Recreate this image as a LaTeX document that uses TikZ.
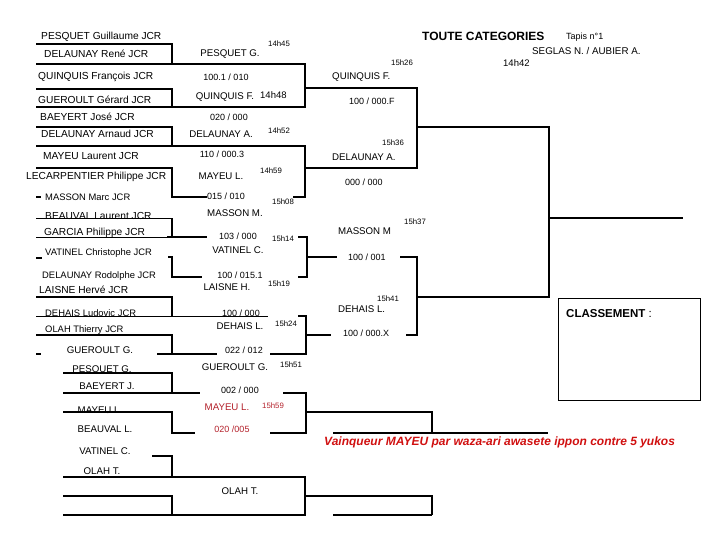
\documentclass[tikz,border=0pt]{standalone}
\usepackage{fontspec}
\setmainfont{Liberation Sans}
\usepackage{xcolor}
\usepackage{tikz}
\usetikzlibrary{positioning}
\definecolor{scoreRed}{HTML}{B3202A}
\definecolor{winRed}{HTML}{D01010}

\begin{document}
\begin{tikzpicture}[
    x=1pt, y=-1pt,
    player/.style={anchor=west, inner sep=0pt, font=\fontsize{10.2}{11}\selectfont},
    smallplayer/.style={player, font=\fontsize{9.4}{10}\selectfont},
    winner/.style={inner sep=0pt, font=\fontsize{9.7}{10}\selectfont},
    score/.style={inner sep=0pt, font=\fontsize{9}{10}\selectfont},
    clock/.style={anchor=west, inner sep=0pt, font=\fontsize{7.8}{8}\selectfont},
    bar/.style={line width=2.8pt},
    thinbar/.style={line width=1pt}
]
\useasboundingbox (0,0) rectangle (720,540);

% header
\node[anchor=west, inner sep=0pt, font=\fontsize{12}{13}\selectfont\bfseries] (title) at (422,36) {TOUTE CATEGORIES};
\node[anchor=west, inner sep=0pt, font=\fontsize{9}{10}\selectfont] (tapis) at (566,37) {Tapis n°1};
\node[anchor=west, inner sep=0pt, font=\fontsize{9.8}{10}\selectfont] (referees) at (532,51) {SEGLAS N. / AUBIER A.};

% first round lines
\draw[bar] (36,44) -| (172,64);
\draw[bar] (36,89) -| (172,107);
\draw[bar] (36,127) -| (172,146);
\draw[bar] (36,168) -| (172,197) -- (207,197);
\draw[thinbar] (36,219) -| (172,237);
\draw[bar] (172,219) -- (172,237);
\draw[bar] (168,257) -| (172,277) -- (202,277);
\draw[bar] (36,297) -| (172,316);
\draw[bar] (36,335) -| (172,354);
\draw[bar] (157,354) -- (217,354);
\draw[bar] (63,373) -| (172,393);
\draw[bar] (63,412) -| (172,433) -- (195,433);
\draw[bar] (152,456) -| (172,477);
\draw[bar] (63,496) -| (172,515);
\draw[bar] (36,197) -- (41,197);
\draw[bar] (36,258) -- (42,258);
\draw[bar] (36,354) -- (41,354);

% second round lines
\draw[bar] (36,64) -- (305,64) -- (305,107) -- (36,107);
\draw[bar] (36,146) -- (305,146) -- (305,197) -- (293,197);
\draw[thinbar] (36,237) -- (167,237);
\draw[bar] (167,237) -- (207,237);
\draw[bar] (298,237) -- (307,237) -- (307,277) -- (298,277);
\draw[thinbar] (36,316) -- (268,316);
\draw[bar] (298,316) -- (306,316) -- (306,354) -- (270,354);
\draw[bar] (63,393) -- (200,393);
\draw[bar] (283,393) -- (306,393) -- (306,433) -- (270,433);
\draw[bar] (63,477) -- (305,477) -- (305,515) -- (63,515);

% third round lines
\draw[bar] (305,88) -- (417,88) -- (417,168) -- (305,168);
\draw[bar] (307,257) -- (337,257);
\draw[bar] (400,257) -- (417,257) -- (417,335) -- (406,335);
\draw[bar] (306,335) -- (331,335);
\draw[bar] (306,412) -- (432,412) -- (432,433);
\draw[bar] (333,433) -- (548,433);
\draw[bar] (305,496) -- (432,496) -- (432,515);
\draw[bar] (333,515) -- (432,515);

% semi-final and final lines
\draw[bar] (417,127) -- (549,127) -- (549,297) -- (417,297);
\draw[bar] (549,218) -- (683,218);

% players
\node[player] (pesquetGu) at (41,37) {PESQUET Guillaume JCR};
\node[player] (delaunayRe) at (44,54) {DELAUNAY René JCR};
\node[player] (quinquisFr) at (38,77) {QUINQUIS François JCR};
\node[player] (gueroultGe) at (38,100) {GUEROULT Gérard JCR};
\node[player] (baeyertJo) at (40,117) {BAEYERT José JCR};
\node[player] (delaunayAr) at (41,134) {DELAUNAY Arnaud JCR};
\node[player] (mayeuLa) at (43,156) {MAYEU Laurent JCR};
\node[player] (lecarpentierPh) at (26,177) {LECARPENTIER Philippe JCR};
\node[smallplayer] (massonMa) at (45,197) {MASSON Marc JCR};
\node[player] (beauvalLa) at (45,216) {BEAUVAL Laurent JCR};
\node[player] (garciaPh) at (44,233) {GARCIA Philippe JCR};
\node[smallplayer] (vatinelCh) at (45,253) {VATINEL Christophe JCR};
\node[smallplayer] (delaunayRo) at (42,276) {DELAUNAY Rodolphe JCR};
\node[player] (laisneHe) at (39,290) {LAISNE Hervé JCR};
\node[smallplayer] (dehaisLu) at (45,313) {DEHAIS Ludovic JCR};
\node[smallplayer] (olahTh) at (45,330) {OLAH Thierry JCR};
\node[winner] (gueroultRep) at (100,350) {GUEROULT G.};
\node[winner] (pesquetRep) at (102,370) {PESQUET G.};
\node[winner] (baeyertRep) at (107,386) {BAEYERT J.};
\node[winner] (mayeuRep) at (100,410) {MAYEU L.};
\node[winner] (beauvalRep) at (105,429) {BEAUVAL L.};
\node[winner] (vatinelRep) at (105,451) {VATINEL C.};
\node[winner] (olahRep) at (102,471) {OLAH T.};

% first round results
\node[clock] (t1445) at (268,44) {14h45};
\node[winner] (winPesquet) at (230,54) {PESQUET G.};
\node[score] (sc1) at (226,77) {100.1 / 010};
\node[winner] (winQuinquis) at (225,97) {QUINQUIS F.};
\node[clock, font=\fontsize{9.5}{10}\selectfont] (t1448) at (260,95) {14h48};
\node[score] (sc2) at (229,117) {020 / 000};
\node[winner] (winDelaunay) at (221,134) {DELAUNAY A.};
\node[clock] (t1452) at (268,131) {14h52};
\node[score] (sc3) at (222,154) {110 / 000.3};
\node[winner] (winMayeu) at (221,176) {MAYEU L.};
\node[clock] (t1459) at (260,171) {14h59};
\node[score] (sc4) at (226,196) {015 / 010};
\node[clock] (t1508) at (272,202) {15h08};
\node[winner] (winMasson) at (235,213) {MASSON M.};
\node[score] (sc5) at (238,236) {103 / 000};
\node[clock] (t1514) at (272,239) {15h14};
\node[winner] (winVatinel) at (238,250) {VATINEL C.};
\node[score] (sc6) at (240,275) {100 / 015.1};
\node[winner] (winLaisne) at (227,287) {LAISNE H.};
\node[clock] (t1519) at (268,284) {15h19};
\node[score] (sc7) at (241,313) {100 / 000};
\node[winner] (winDehais) at (240,326) {DEHAIS L.};
\node[clock] (t1524) at (275,324) {15h24};
\node[score] (sc8) at (244,350) {022 / 012};
\node[winner] (winGueroult) at (235,367) {GUEROULT G.};
\node[clock] (t1551) at (280,365) {15h51};
\node[score] (sc9) at (240,390) {002 / 000};
\node[winner, text=scoreRed] (winMayeuRep) at (227,407) {MAYEU L.};
\node[clock, text=scoreRed] (t1559) at (262,406) {15h59};
\node[score, text=scoreRed] (sc10) at (232,429) {020 /005};
\node[winner] (winOlah) at (240,491) {OLAH T.};

% second round results
\node[clock] (t1526) at (391,63) {15h26};
\node[clock, font=\fontsize{9.5}{10}\selectfont] (t1442) at (503,63) {14h42};
\node[winner, anchor=west] (semiQuinquis) at (332,77) {QUINQUIS F.};
\node[score, anchor=west] (sc11) at (349,101) {100 / 000.F};
\node[clock] (t1536) at (382,143) {15h36};
\node[winner, anchor=west] (semiDelaunay) at (332,157) {DELAUNAY A.};
\node[score, anchor=west] (sc12) at (345,182) {000 / 000};
\node[clock] (t1537) at (404,222) {15h37};
\node[winner, anchor=west] (semiMasson) at (338,231) {MASSON M};
\node[score, anchor=west] (sc13) at (348,257) {100 / 001};
\node[clock] (t1541) at (377,299) {15h41};
\node[winner, anchor=west] (semiDehais) at (338,309) {DEHAIS L.};
\node[score, anchor=west] (sc14) at (343,333) {100 / 000.X};

% ranking box
\draw[line width=0.8pt] (558,298) rectangle (700,400);
\node[anchor=west, inner sep=0pt, font=\fontsize{11.5}{12}\selectfont] (classement) at (566,314) {\textbf{CLASSEMENT} :};

\node[anchor=west, inner sep=0pt, text=winRed, font=\fontsize{12}{13}\selectfont\bfseries\itshape] (vainqueur) at (324,442) {Vainqueur MAYEU par waza-ari awasete ippon contre 5 yukos};

\end{tikzpicture}
\end{document}
